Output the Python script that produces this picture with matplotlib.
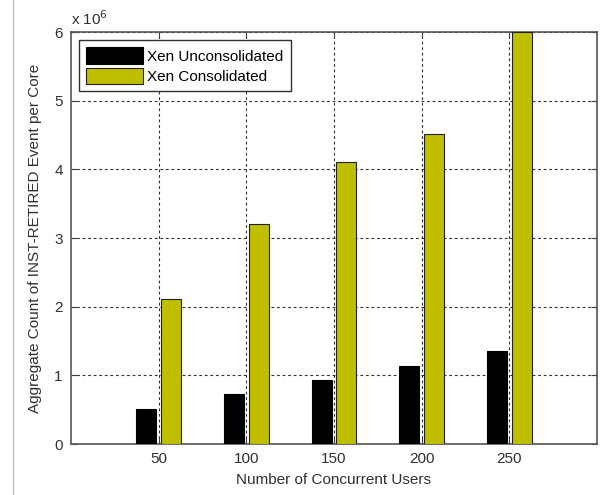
import matplotlib
matplotlib.use("Agg")
import matplotlib.pyplot as plt
import numpy as np
from matplotlib.lines import Line2D

plt.rcParams["font.family"] = ["Liberation Sans", "DejaVu Sans"]

users = [50, 100, 150, 200, 250]
unconsolidated = [0.51, 0.73, 0.93, 1.135, 1.36]   # x 1e6
consolidated = [2.11, 3.21, 4.10, 4.51, 6.0]       # x 1e6
y_ticks = [0, 1, 2, 3, 4, 5, 6]

fig = plt.figure(figsize=(6.04, 4.95), dpi=100)
ax = fig.add_axes([71 / 604, 1 - 444 / 495, 526 / 604, 412 / 495])

x = np.array(users, dtype=float)
offset = 7.0
width = 11.5
ax.bar(x - offset, unconsolidated, width, color="black", edgecolor="black",
       linewidth=0.8, label="Xen Unconsolidated", zorder=3)
ax.bar(x + offset, consolidated, width, color="#bfbf00", edgecolor="#202020",
       linewidth=0.8, label="Xen Consolidated", zorder=3)

ax.set_xlim(0, 300)
ax.set_ylim(0, 6)
ax.set_xticks(users)
ax.set_yticks(y_ticks)
ax.tick_params(direction="in", length=4, top=True, right=True, pad=6,
               labelsize=11, colors="#404040", labelcolor="#303030")
ax.grid(True, linestyle=(0, (2.5, 2.5)), color="#303030", linewidth=0.8, zorder=1)
for s in ax.spines.values():
    s.set_color("#555555")
    s.set_linewidth(1.2)

ax.set_xlabel("Number of Concurrent Users", fontsize=11, color="#303030",
              labelpad=5)
ax.set_ylabel("Aggregate Count of INST-RETIRED Event per Core", fontsize=11,
              color="#303030", labelpad=9)
ax.text(0.0, 1.01, r"x 10$^6$", transform=ax.transAxes, fontsize=11,
        color="#303030", ha="left", va="bottom")

leg = ax.legend(loc="upper left", bbox_to_anchor=(0.016, 0.98), fontsize=11,
                frameon=True, fancybox=False, handlelength=3.7, handleheight=1.3,
                borderpad=0.45, labelspacing=0.25, handletextpad=0.3,
                borderaxespad=0)
leg.get_frame().set_edgecolor("#303030")
leg.get_frame().set_linewidth(1.0)
leg.get_frame().set_alpha(1)

# thin border line along the left edge
fig.add_artist(Line2D([12.5 / 604, 12.5 / 604], [0, 1], color="#c0c0c0",
                      linewidth=1, transform=fig.transFigure))

fig.savefig("out.png", dpi=100)
